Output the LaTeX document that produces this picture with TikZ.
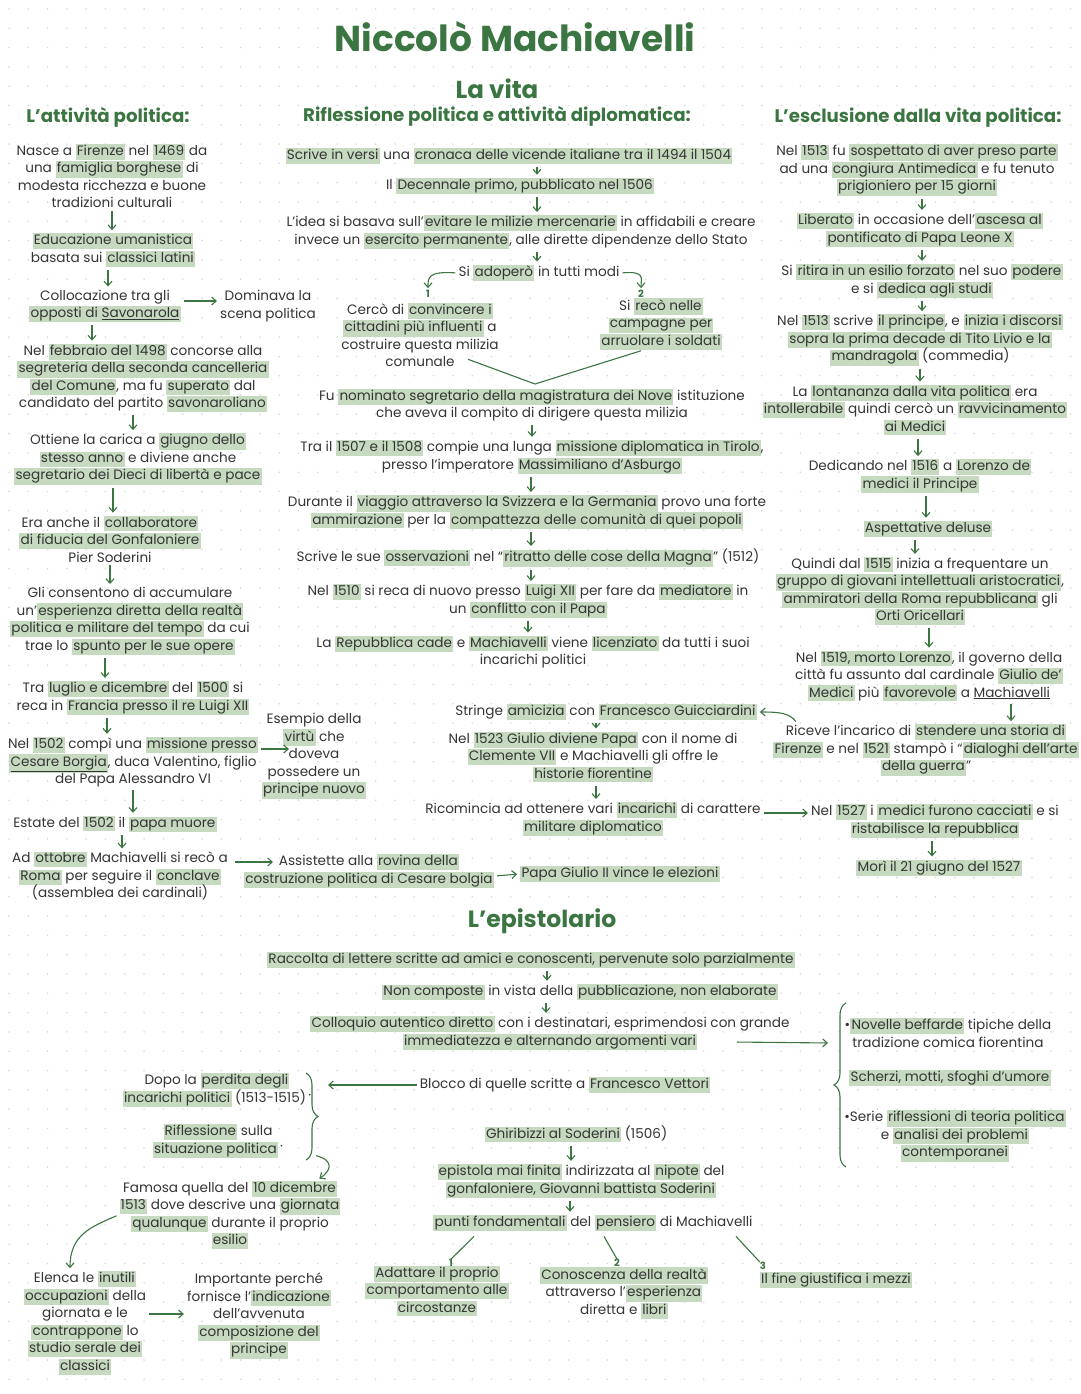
\documentclass[tikz,border=0pt]{standalone}
\usepackage{fontspec}
\setmainfont{Poppins}
\usetikzlibrary{arrows.meta,decorations.pathreplacing}
\definecolor{leafgreen}{HTML}{3B7642}
\definecolor{hlgreen}{HTML}{C6DAC0}
\definecolor{ink}{HTML}{353535}
\definecolor{dotgray}{HTML}{D9D9D9}
\tikzset{
  note/.style={align=center, inner sep=1pt, text=ink, font=\fontsize{13.6}{17.5}\selectfont},
  head/.style={text=leafgreen, inner sep=1pt, font=\bfseries\fontsize{18.2}{21}\selectfont},
  bighead/.style={text=leafgreen, inner sep=1pt, font=\bfseries\fontsize{23.5}{27}\selectfont},
  arr/.style={-{Straight Barb[length=4.5pt,width=8pt]}, line width=1.1pt, draw=leafgreen,
    shorten <=2pt, shorten >=2pt},
  link/.style={line width=1.1pt, draw=leafgreen},
  num/.style={text=leafgreen, inner sep=0pt, font=\bfseries\fontsize{10}{12}\selectfont},
  curly/.style={line width=1.1pt, draw=leafgreen, decorate, decoration={brace, amplitude=12pt}},
}
\newcommand{\hl}[1]{{\fboxsep=1.2pt\colorbox{hlgreen}{\rule[-3pt]{0pt}{12pt}#1}}}
\newcommand{\bul}{\,\raisebox{5pt}{\fontsize{7}{7}\selectfont•}}

\begin{document}
\begin{tikzpicture}[x=1pt,y=1pt]
  \useasboundingbox (0,0) rectangle (1080,-1394);
  \fill[white] (0,0) rectangle (1080,-1394);
  % dotted paper
  \foreach \i in {0,...,55} \foreach \j in {0,...,72}
    \fill[dotgray] (\i*19.3+9,-\j*19.3-9) circle (0.9);

  % titles
  \node[text=leafgreen, font=\bfseries\fontsize{36}{40}\selectfont] (title) at (515,-37) {Niccolò Machiavelli};
  \node[bighead, font=\bfseries\fontsize{24.5}{28}\selectfont] (vita) at (497,-89) {La vita};
  \node[head] (hpol) at (108,-117) {L'attività politica:};
  \node[head] (hrif) at (497,-116) {Riflessione politica e attività diplomatica:};
  \node[head] (hesc) at (918,-118) {L'esclusione dalla vita politica:};
  \node[bighead] (hepi) at (542,-921) {L'epistolario};

  % l'attivita politica
  \node[note] (born) at (112,-176) {Nasce a \hl{Firenze} nel \hl{1469} da\\ una \hl{famiglia borghese} di\\ modesta ricchezza e buone\\ tradizioni culturali};
  \node[note] (edu) at (113,-250) {\hl{Educazione umanistica}\\ basata sui \hl{classici latini}};
  \node[note] (opp) at (105,-306) {Collocazione tra gli\\ \hl{opposti di \underline{Savonarola}}};
  \node[note] (scena) at (268,-306) {Dominava la\\ scena politica};
  \node[note] (feb) at (143,-378) {Nel \hl{febbraio del 1498} concorse alla\\ \hl{segreteria della seconda cancelleria}\\ \hl{del Comune}, ma fu \hl{superato} dal\\ candidato del partito \hl{savonaroliano}};
  \node[note] (carica) at (138,-459) {Ottiene la carica a \hl{giugno dello}\\ \hl{stesso anno} e diviene anche\\ \hl{segretario dei Dieci di libertà e pace}};
  \node[note] (sod) at (110,-539) {Era anche il \hl{collaboratore}\\ \hl{di fiducia del Gonfaloniere}\\ Pier Soderini};
  \node[note] (esp) at (130,-621) {Gli consentono di accumulare\\ un'\hl{esperienza diretta della realtà}\\ \hl{politica e militare del tempo} da cui\\ trae lo \hl{spunto per le sue opere}};
  \node[note] (fra) at (133,-698) {Tra \hl{luglio e dicembre} del \hl{1500} si\\ reca in \hl{Francia presso il re Luigi XII}};
  \node[note] (borgia) at (133,-762) {Nel \hl{1502} compì una \hl{missione presso}\\ \hl{\underline{Cesare Borgia}}, duca Valentino, figlio\\ del Papa Alessandro VI};
  \node[note] (virtu) at (314,-756) {Esempio della\\ \hl{virtù} che\\ doveva\\ possedere un\\ \hl{principe nuovo}};
  \coordinate (virtuin) at (291,-749);
  \node[note] (estate) at (115,-824) {Estate del \hl{1502} il \hl{papa muore}};
  \node[note] (roma) at (120,-876) {Ad \hl{ottobre} Machiavelli si recò a\\ \hl{Roma} per seguire il \hl{conclave}\\ (assemblea dei cardinali)};
  \node[note] (rovina) at (369,-871) {Assistette alla \hl{rovina della}\\ \hl{costruzione politica di Cesare bolgia}};
  \coordinate (rovinain) at (275,-862);
  \node[note] (giulio) at (620,-874) {\hl{Papa Giulio II vince le elezioni}};

  % riflessione politica e attivita diplomatica
  \node[note] (versi) at (509,-156) {\hl{Scrive in versi} una \hl{cronaca delle vicende italiane tra il 1494 il 1504}};
  \node[note] (dec) at (520,-186) {Il \hl{Decennale primo, pubblicato nel 1506}};
  \node[note] (idea) at (521,-232) {L'idea si basava sull'\hl{evitare le milizie mercenarie} in affidabili e creare\\ invece un \hl{esercito permanente}, alle dirette dipendenze dello Stato};
  \node[note] (adop) at (539,-273) {Si \hl{adoperò} in tutti modi};
  \node[note] (conv) at (420,-335) {Cercò di \hl{convincere i}\\ \hl{cittadini più influenti} a\\ costruire questa milizia\\ comunale};
  \node[note] (camp) at (661,-324) {Si \hl{recò nelle}\\ \hl{campagne per}\\ \hl{arruolare i soldati}};
  \node[num] (m1) at (428,-294) {1};
  \node[num] (m2) at (641,-294) {2};
  \coordinate (meet) at (535,-384);
  \node[note] (nove) at (532,-405) {Fu \hl{nominato segretario della magistratura dei Nove} istituzione\\ che aveva il compito di dirigere questa milizia};
  \node[note] (tirolo) at (532,-457) {Tra il \hl{1507 e il 1508} compie una lunga \hl{missione diplomatica in Tirolo},\\ presso l'imperatore \hl{Massimiliano d'Asburgo}};
  \node[note] (viaggio) at (527,-512) {Durante il \hl{viaggio attraverso la Svizzera e la Germania} provo una forte\\ \hl{ammirazione} per la \hl{compattezza delle comunità di quei popoli}};
  \node[note] (magna) at (528,-558) {Scrive le sue \hl{osservazioni} nel ``\hl{ritratto delle cose della Magna}'' (1512)};
  \node[note] (luigi) at (528,-601) {Nel \hl{1510} si reca di nuovo presso \hl{Luigi XII} per fare da \hl{mediatore} in\\ un \hl{conflitto con il Papa}};
  \node[note] (cade) at (533,-652) {La \hl{Repubblica cade} e \hl{Machiavelli} viene \hl{licenziato} da tutti i suoi\\ incarichi politici};
  \node[note] (guicc) at (606,-712) {Stringe \hl{amicizia} con \hl{Francesco Guicciardini}};
  \node[note] (clem) at (593,-757) {Nel \hl{1523 Giulio diviene Papa} con il nome di\\ \hl{Clemente VII} e Machiavelli gli offre le\\ \hl{historie fiorentine}};
  \node[note] (incar) at (593,-819) {Ricomincia ad ottenere vari \hl{incarichi} di carattere\\ \hl{militare diplomatico}};

  % l'esclusione dalla vita politica
  \node[note] (sosp) at (917,-170) {Nel \hl{1513} fu \hl{sospettato di aver preso parte}\\ ad una \hl{congiura Antimedica} e fu tenuto\\ \hl{prigioniero per 15 giorni}};
  \node[note] (lib) at (920,-230) {\hl{Liberato} in occasione dell'\hl{ascesa al}\\ \hl{pontificato di Papa Leone X}};
  \node[note] (esil) at (922,-281) {Si \hl{ritira in un esilio forzato} nel suo \hl{podere}\\ e si \hl{dedica agli studi}};
  \node[note] (princ) at (920,-340) {Nel \hl{1513} scrive \hl{il principe}, e \hl{inizia i discorsi}\\ \hl{sopra la prima decade di Tito Livio e la}\\ \hl{mandragola} (commedia)};
  \node[note] (lont) at (915,-410) {La \hl{lontananza dalla vita politica} era\\ \hl{intollerabile} quindi cercò un \hl{ravvicinamento}\\ \hl{ai Medici}};
  \node[note] (lor) at (920,-476) {Dedicando nel \hl{1516} a \hl{Lorenzo de}\\ \hl{medici il Principe}};
  \node[note] (asp) at (928,-529) {\hl{Aspettative deluse}};
  \node[note] (orti) at (920,-591) {Quindi dal \hl{1515} inizia a frequentare un\\ \hl{gruppo di giovani intellettuali aristocratici},\\ \hl{ammiratori della Roma repubblicana} gli\\ \hl{Orti Oricellari}};
  \node[note] (morto) at (929,-676) {Nel \hl{1519, morto Lorenzo}, il governo della\\ città fu assunto dal cardinale \hl{Giulio de'}\\ \hl{Medici} più \hl{favorevole} a \underline{Machiavelli}};
  \node[note] (storia) at (926,-750) {Riceve l'incarico di \hl{stendere una storia di}\\ \hl{Firenze} e nel \hl{1521} stampò i ``\hl{dialoghi dell'arte}\\ \hl{della guerra}''};
  \node[note] (cacc) at (935,-821) {Nel \hl{1527} i \hl{medici furono cacciati} e si\\ \hl{ristabilisce la repubblica}};
  \node[note] (mori) at (939,-868) {\hl{Morì il 21 giugno del 1527}};

  % l'epistolario
  \node[note] (racc) at (531,-960) {\hl{Raccolta di lettere scritte ad amici e conoscenti, pervenute solo parzialmente}};
  \node[note] (noncomp) at (580,-992) {\hl{Non composte} in vista della \hl{pubblicazione, non elaborate}};
  \node[note] (coll) at (550,-1033) {\hl{Colloquio autentico diretto} con i destinatari, esprimendosi con grande\\ \hl{immediatezza e alternando argomenti vari}};
  \node[note] (nov) at (948,-1033) {•\hl{Novelle beffarde} tipiche della\\ tradizione comica fiorentina};
  \node[note] (scher) at (950,-1078) {\hl{Scherzi, motti, sfoghi d'umore}};
  \node[note] (serie) at (955,-1136) {•Serie \hl{riflessioni di teoria politica}\\ e \hl{analisi dei problemi}\\ \hl{contemporanei}};
  \coordinate (bracein) at (830,-1043);
  \node[note] (vett) at (565,-1085) {Blocco di quelle scritte a \hl{Francesco Vettori}};
  \node[note] (dopo) at (217,-1090) {Dopo la \hl{perdita degli}\\ \hl{incarichi politici} (1513-1515)\bul};
  \node[note] (rifl) at (218,-1141) {\hl{Riflessione} sulla\\ \hl{situazione politica}\bul};
  \coordinate (vettin) at (326,-1085);
  \coordinate (vbot) at (314,-1155);
  \node[note] (famosa) at (230,-1215) {Famosa quella del \hl{10 dicembre}\\ \hl{1513} dove descrive una \hl{giornata}\\ \hl{qualunque} durante il proprio\\ \hl{esilio}};
  \node[note] (elenca) at (85,-1323) {Elenca le \hl{inutili}\\ \hl{occupazioni} della\\ giornata e le\\ \hl{contrappone} lo\\ \hl{studio serale dei}\\ \hl{classici}};
  \node[note] (imp) at (259,-1316) {Importante perché\\ fornisce l'\hl{indicazione}\\ dell'avvenuta\\ \hl{composizione del}\\ \hl{principe}};
  \node[note] (ghir) at (576,-1134) {\hl{Ghiribizzi al Soderini} (1506)};
  \node[note] (epis) at (581,-1181) {\hl{epistola mai finita} indirizzata al \hl{nipote} del\\ \hl{gonfaloniere, Giovanni battista Soderini}};
  \node[note] (punti) at (593,-1223) {\hl{punti fondamentali} del \hl{pensiero} di Machiavelli};
  \node[num] (one) at (451,-1263) {1};
  \node[num] (two) at (617,-1263) {2};
  \node[num] (three) at (763,-1266) {3};
  \node[note] (adat) at (437,-1291) {\hl{Adattare il proprio}\\ \hl{comportamento alle}\\ \hl{circostanze}};
  \node[note] (cono) at (624,-1293) {\hl{Conoscenza della realtà}\\ attraverso l'\hl{esperienza}\\ diretta e \hl{libri}};
  \node[note] (fine) at (836,-1280) {\hl{Il fine giustifica i mezzi}};

  % connectors, left column
  \draw[arr] (born.south) -- (born.south |- edu.north);
  \draw[arr] ([xshift=-5pt]edu.south) -- ([xshift=-5pt]edu.south |- opp.north);
  \draw[arr] ([yshift=5pt]opp.east) -- ([yshift=5pt]opp.east -| scena.west);
  \draw[arr] ([xshift=-13pt]opp.south) -- ([xshift=-13pt]opp.south |- feb.north);
  \draw[arr] ([xshift=-10pt]feb.south) -- ([xshift=-10pt]feb.south |- carica.north);
  \draw[arr] ([xshift=-25pt]carica.south) -- ([xshift=-25pt]carica.south |- sod.north);
  \draw[arr] (sod.south) -- (sod.south |- esp.north);
  \draw[arr] ([xshift=-25pt]esp.south) -- ([xshift=-25pt]esp.south |- fra.north);
  \draw[arr] ([xshift=-26pt]fra.south) -- ([xshift=-26pt]fra.south |- borgia.north);
  \draw[arr] ([yshift=13pt]borgia.east) -- (virtuin);
  \draw[arr] (borgia.south) -- (borgia.south |- estate.north);
  \draw[arr] ([xshift=7pt]estate.south) -- ([xshift=7pt]estate.south |- roma.north);
  \draw[arr] ([yshift=14pt,xshift=4pt]roma.east) -- (rovinain);
  \draw[arr] ([yshift=-5pt]rovina.east) -- (giulio.west);

  % connectors, middle column
  \draw[arr] ([xshift=28pt]versi.south) -- ([xshift=28pt]versi.south |- dec.north);
  \draw[arr] ([xshift=17pt]dec.south) -- ([xshift=17pt]dec.south |- idea.north);
  \draw[arr] ([xshift=16pt]idea.south) -- ([xshift=16pt]idea.south |- adop.north);
  \draw[arr] (adop.west) .. controls +(-30,2) and +(0,12) .. (m1.north);
  \draw[arr] (adop.east) .. controls +(25,2) and +(0,12) .. (m2.north);
  \draw[link] ([xshift=48pt,yshift=9pt]conv.south) -- (meet) -- ([xshift=-20pt]camp.south);
  \draw[arr] (nove.south) -- (nove.south |- tirolo.north);
  \draw[arr] ([xshift=-1pt]tirolo.south) -- ([xshift=-1pt]tirolo.south |- viaggio.north);
  \draw[arr] ([xshift=4pt]viaggio.south) -- ([xshift=4pt]viaggio.south |- magna.north);
  \draw[arr] ([xshift=3pt]magna.south) -- ([xshift=3pt]magna.south |- luigi.north);
  \draw[arr] (luigi.south) -- (luigi.south |- cade.north);
  \draw[arr] ([xshift=-10pt]guicc.south) -- ([xshift=-10pt]guicc.south |- clem.north);
  \draw[arr] ([xshift=3pt]clem.south) -- ([xshift=3pt]clem.south |- incar.north);
  \draw[arr] ([yshift=6pt]incar.east) -- ([yshift=6pt]incar.east -| cacc.west);

  % connectors, right column
  \draw[arr] ([xshift=5pt]sosp.south) -- ([xshift=5pt]sosp.south |- lib.north);
  \draw[arr] ([xshift=2pt]lib.south) -- ([xshift=2pt]lib.south |- esil.north);
  \draw[arr] (esil.south) -- (esil.south |- princ.north);
  \draw[arr] (princ.south) -- (princ.south |- lont.north);
  \draw[arr] ([xshift=3pt]lont.south) -- ([xshift=3pt]lont.south |- lor.north);
  \draw[arr] ([xshift=6pt]lor.south) -- ([xshift=6pt]lor.south |- asp.north);
  \draw[arr] ([xshift=-13pt]asp.south) -- ([xshift=-13pt]asp.south |- orti.north);
  \draw[arr] ([xshift=9pt]orti.south) -- ([xshift=9pt]orti.south |- morto.north);
  \draw[arr] ([xshift=82pt]morto.south) -- ([xshift=82pt]morto.south |- storia.north);
  \draw[arr] ([xshift=25pt]storia.north west) .. controls +(-8,10) and +(22,0) .. (guicc.east);
  \draw[arr] ([xshift=-3pt]cacc.south) -- ([xshift=-3pt]cacc.south |- mori.north);

  % connectors, epistolario
  \draw[arr] ([xshift=16pt]racc.south) -- ([xshift=16pt]racc.south |- noncomp.north);
  \draw[arr] ([xshift=-34pt]noncomp.south) -- ([xshift=-34pt]noncomp.south |- coll.north);
  \draw[curly] (846,-1167) -- (846,-1003);
  \draw[arr] ([xshift=-56pt,yshift=-9pt]coll.east) -- (bracein);
  \draw[curly] (306,-1073) -- (306,-1160);
  \draw[arr] (vett.west) -- (vettin);
  \draw[arr] (vbot) .. controls +(22,-6) and +(12,8) .. ([xshift=-24pt]famosa.north east);
  \draw[arr] (famosa.west) .. controls +(-28,-12) and +(0,35) .. ([xshift=-15pt]elenca.north);
  \draw[arr] ([yshift=9pt]elenca.east) -- ([yshift=9pt]elenca.east -| imp.west);
  \draw[arr] ([xshift=-5pt]ghir.south) -- ([xshift=-5pt]ghir.south |- epis.north);
  \draw[arr] ([xshift=-11pt]epis.south) -- ([xshift=-11pt]epis.south |- punti.north);
  \draw[link] ([xshift=-119pt,yshift=-4pt]punti.south) -- (one.north);
  \draw[link] ([xshift=11pt,yshift=-4pt]punti.south) -- (two.north);
  \draw[link] ([xshift=143pt,yshift=-4pt]punti.south) -- (three.north west);
\end{tikzpicture}
\end{document}
